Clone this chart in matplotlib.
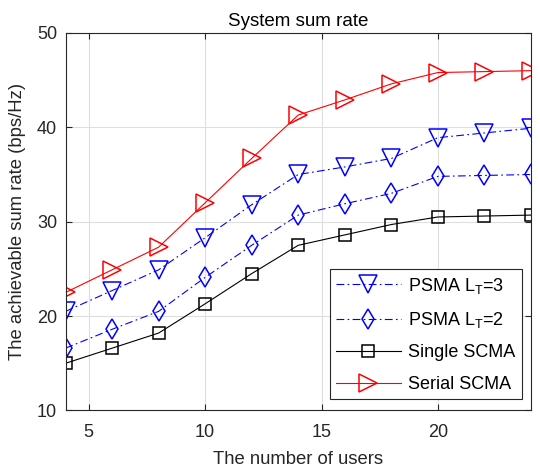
import matplotlib.pyplot as plt

plt.rcParams['font.family'] = ['Liberation Sans', 'DejaVu Sans']
plt.rcParams['mathtext.fontset'] = 'custom'
plt.rcParams['mathtext.rm'] = 'Liberation Sans'

# data
users = [4, 6, 8, 10, 12, 14, 16, 18, 20, 22, 24]
psma_lt3 = [20.5, 22.7, 24.9, 28.3, 31.8, 35.0, 35.8, 36.7, 38.9, 39.4, 39.9]
psma_lt2 = [16.6, 18.6, 20.5, 24.1, 27.5, 30.7, 31.9, 33.0, 34.8, 34.9, 35.0]
single_scma = [15.0, 16.6, 18.2, 21.3, 24.5, 27.5, 28.6, 29.7, 30.5, 30.6, 30.7]
serial_scma = [22.5, 24.9, 27.3, 32.0, 36.7, 41.3, 42.9, 44.6, 45.8, 45.9, 46.0]

fig = plt.figure(figsize=(5.4, 4.7), dpi=100)
ax = fig.add_axes([0.1213, 0.1266, 0.8620, 0.8034])

dashdot = (0, (7, 3, 1.5, 3))
ax.plot(users, psma_lt3, color='blue', linestyle=dashdot, linewidth=0.8,
        marker='v', markersize=13, markerfacecolor='none', markeredgewidth=1.1,
        label=r'PSMA L$_\mathregular{T}$=3')
ax.plot(users, psma_lt2, color='blue', linestyle=dashdot, linewidth=0.8,
        marker='d', markersize=10, markerfacecolor='none', markeredgewidth=1.1,
        label=r'PSMA L$_\mathregular{T}$=2')
ax.plot(users, single_scma, color='black', linestyle='-', linewidth=0.8,
        marker='s', markersize=9, markerfacecolor='none', markeredgewidth=1.1,
        label='Single SCMA')
ax.plot(users, serial_scma, color='red', linestyle='-', linewidth=0.8,
        marker='>', markersize=13, markerfacecolor='none', markeredgewidth=1.1,
        label='Serial SCMA')

ax.set_xlim(4, 24)
ax.set_ylim(10, 50)
ax.set_xticks([5, 10, 15, 20])
ax.set_yticks([10, 20, 30, 40, 50])
ax.grid(True, color='#dedede', linewidth=0.8)
ax.set_axisbelow(True)
ax.tick_params(direction='in', top=True, right=True, labelsize=13,
               colors='#262626', length=4)
ax.tick_params(axis='x', pad=10)
ax.tick_params(axis='y', pad=6)
for s in ax.spines.values():
    s.set_color('#262626')
    s.set_linewidth(0.8)

ax.set_title('System sum rate', fontsize=13.5, pad=5)
ax.set_xlabel('The number of users', fontsize=13.3, color='#262626', labelpad=7)
ax.set_ylabel('The achievable sum rate (bps/Hz)', fontsize=13.3,
              color='#262626', labelpad=8)

leg = ax.legend(loc='lower right', bbox_to_anchor=(0.98, 0.03), fontsize=13,
                handlelength=3.6, handletextpad=0.4, fancybox=False,
                edgecolor='#262626', framealpha=1, borderpad=0.35,
                labelspacing=0.8, borderaxespad=0)
leg.get_frame().set_linewidth(0.8)

fig.savefig('out.png', dpi=100)
